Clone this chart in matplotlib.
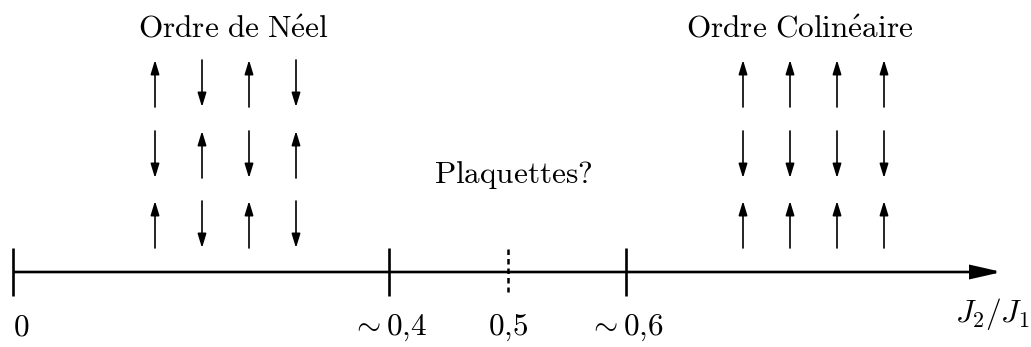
import matplotlib.pyplot as plt
from matplotlib.patches import FancyArrowPatch

plt.rcParams['mathtext.fontset'] = 'cm'
plt.rcParams['font.family'] = 'serif'
plt.rcParams['font.serif'] = ['cmr10']
plt.rcParams['axes.unicode_minus'] = False

# phase boundaries on the J2/J1 axis (schematic positions)
tick_labels = [r'$0$', r'$\sim 0{,}4$', r'$0{,}5$', r'$\sim 0{,}6$']
tick_pos = [13, 389, 508, 626]
tick_dashed = [False, False, True, False]

# spin configurations (+1 up, -1 down), rows from top
neel_spins = [[1, -1, 1, -1],
              [-1, 1, -1, 1],
              [1, -1, 1, -1]]
colin_spins = [[1, 1, 1, 1],
               [-1, -1, -1, -1],
               [1, 1, 1, 1]]
phase_names = [r'$\mathrm{Ordre\ de\ N\acute{e}el}$',
               r'$\mathrm{Ordre\ Colin\acute{e}aire}$']

fig = plt.figure(figsize=(10.31, 3.47), dpi=100)
ax = fig.add_axes([0, 0, 1, 1])
ax.set_xlim(0, 1031)
ax.set_ylim(347, 0)
ax.axis('off')

y_axis = 272
fs = 22.5

# main axis with arrow
ax.add_patch(FancyArrowPatch((13, y_axis), (1002, y_axis),
                             arrowstyle='-|>,head_length=1.85,head_width=0.42',
                             mutation_scale=10, lw=1.9, color='black',
                             shrinkA=0, shrinkB=0, joinstyle='miter', capstyle='butt'))

for lab, xp, dashed in zip(tick_labels, tick_pos, tick_dashed):
    if dashed:
        ax.plot([xp, xp], [249, 292], color='black', lw=1.8, ls=(0, (2.2, 1.6)))
    else:
        ax.plot([xp, xp], [248, 296], color='black', lw=1.9, solid_capstyle='butt')
    if xp == tick_pos[0]:
        ax.text(xp, 328, lab, fontsize=fs, ha='left', va='center')
    else:
        ax.text(xp, 328, lab, fontsize=fs, ha='center', va='center')

ax.text(1029, 314, r'$J_2/J_1$', fontsize=fs, ha='right', va='center')

row_top = [60, 131, 201]
row_len = 47


def draw_spins(spins, x0, dx):
    for r, row in enumerate(spins):
        for c, s in enumerate(row):
            xp = x0 + c * dx
            a, b = row_top[r] + row_len, row_top[r]
            if s < 0:
                a, b = b, a
            ax.add_patch(FancyArrowPatch((xp, a), (xp, b),
                                         arrowstyle='-|>,head_length=0.85,head_width=0.26',
                                         mutation_scale=10, lw=1.2, color='black',
                                         shrinkA=0, shrinkB=0))


draw_spins(neel_spins, 155, 47)
draw_spins(colin_spins, 743, 47)

ax.text(233, 30, phase_names[0], fontsize=fs, ha='center', va='center')
ax.text(800, 30, phase_names[1], fontsize=fs, ha='center', va='center')
ax.text(513, 175, r'$\mathrm{Plaquettes?}$', fontsize=fs, ha='center', va='center')

fig.savefig('out.png', dpi=100)
